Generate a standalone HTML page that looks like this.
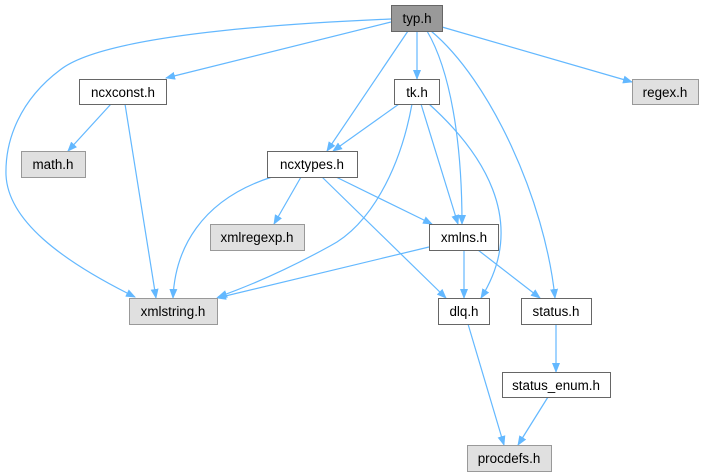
<!DOCTYPE html>
<html><head><style>body{margin:0;background:#fff}svg{display:block}text{font-family:"Liberation Sans",Arial,sans-serif;font-size:13.4px;text-anchor:middle}</style></head>
<body>
<svg width="703" height="476" viewBox="0 0 703 476" xmlns="http://www.w3.org/2000/svg">
<defs><marker id="a" markerWidth="10" markerHeight="8" refX="9" refY="4" orient="auto" markerUnits="userSpaceOnUse"><path d="M0,0 L10,4 L0,8 Z" fill="#63b8ff"/></marker></defs>
<g fill="none" stroke="#63b8ff" stroke-width="1.2" marker-end="url(#a)">
<path d="M391,22 L166,78"/>
<path d="M391,19 C250,25 100,38 60,70 C20,100 5,140 6,175 C8,220 60,260 135,297"/>
<path d="M408,31 L327,151"/>
<path d="M417,31 L417,79"/>
<path d="M427,31 C450,70 462,140 462,224"/>
<path d="M431,31 C490,80 545,200 555,298"/>
<path d="M442,27 L632,82"/>
<path d="M111,104 L68,151"/>
<path d="M125,104 L156,298"/>
<path d="M399,104 L333,151"/>
<path d="M412,104 C400,170 370,225 330,246 C290,268 255,284 218,297"/>
<path d="M421,104 L458,224"/>
<path d="M429,104 C480,150 530,220 481,298"/>
<path d="M301,177 L274,224"/>
<path d="M272,177 C200,200 175,250 173,298"/>
<path d="M336,177 L432,224"/>
<path d="M322,177 L446,298"/>
<path d="M429,247 L217,298"/>
<path d="M464,250 L464,298"/>
<path d="M478,250 L540,298"/>
<path d="M468,324 L504,445"/>
<path d="M556,324 L556,372"/>
<path d="M548,397 L518,445"/>
</g>
<g stroke-width="1">
<rect x="391.5" y="5.5" width="51" height="26" fill="#999" stroke="#666"/>
<rect x="79.5" y="79.5" width="87" height="25" fill="#fff" stroke="#666"/>
<rect x="21.5" y="151.5" width="64" height="26" fill="#e0e0e0" stroke="#999"/>
<rect x="267.5" y="151.5" width="90" height="26" fill="#fff" stroke="#666"/>
<rect x="394.5" y="79.5" width="45" height="25" fill="#fff" stroke="#666"/>
<rect x="632.5" y="79.5" width="66" height="25" fill="#e0e0e0" stroke="#999"/>
<rect x="210.5" y="224.5" width="94" height="26" fill="#e0e0e0" stroke="#999"/>
<rect x="429.5" y="224.5" width="69" height="26" fill="#fff" stroke="#666"/>
<rect x="129.5" y="298.5" width="88" height="26" fill="#e0e0e0" stroke="#999"/>
<rect x="438.5" y="298.5" width="51" height="26" fill="#fff" stroke="#666"/>
<rect x="521.5" y="298.5" width="70" height="26" fill="#fff" stroke="#666"/>
<rect x="502.5" y="372.5" width="108" height="25" fill="#fff" stroke="#666"/>
<rect x="467.5" y="445.5" width="84" height="26" fill="#e0e0e0" stroke="#999"/>
</g>
<g fill="#000">
<text x="417" y="23">typ.h</text>
<text x="123" y="97">ncxconst.h</text>
<text x="53" y="169">math.h</text>
<text x="312" y="169">ncxtypes.h</text>
<text x="417" y="97">tk.h</text>
<text x="665" y="97">regex.h</text>
<text x="257" y="242">xmlregexp.h</text>
<text x="464" y="242">xmlns.h</text>
<text x="173" y="316">xmlstring.h</text>
<text x="464" y="316">dlq.h</text>
<text x="556" y="316">status.h</text>
<text x="556" y="390">status_enum.h</text>
<text x="509" y="463">procdefs.h</text>
</g>
</svg>
</body></html>
